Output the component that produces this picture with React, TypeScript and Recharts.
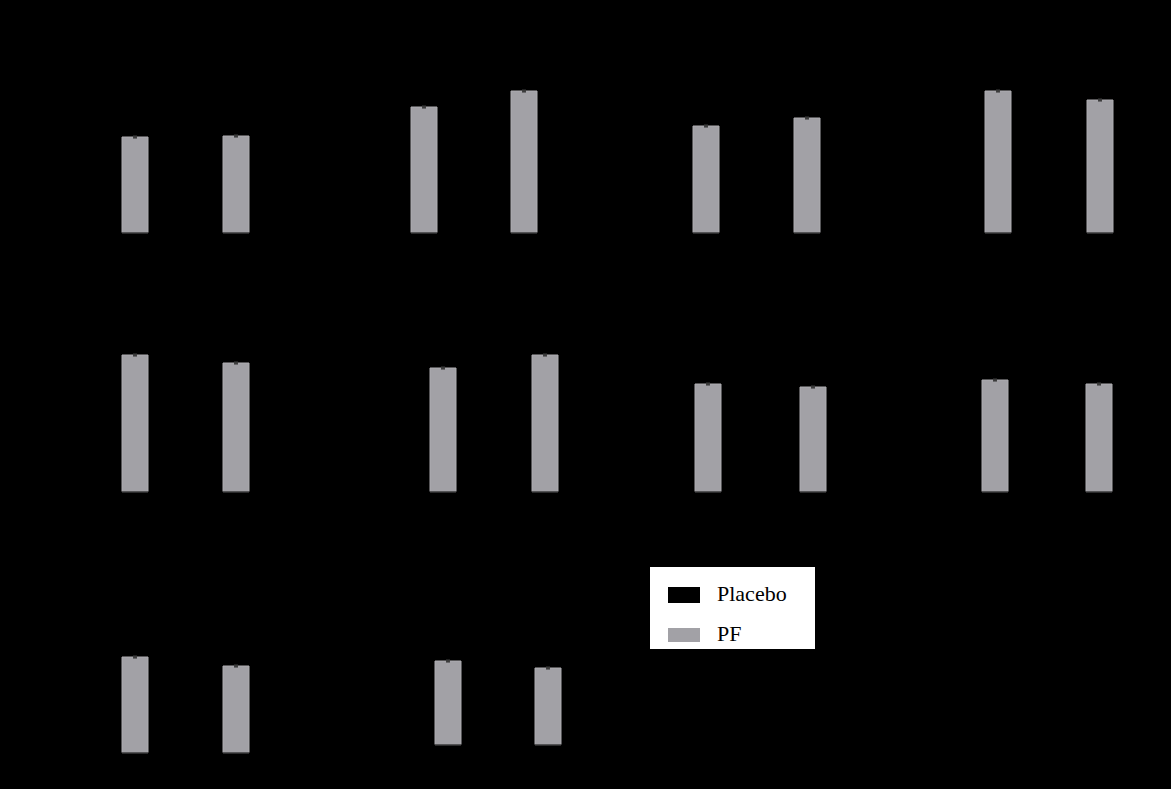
import React from 'react';
import { BarChart, Bar, XAxis, YAxis, ErrorBar } from 'recharts';

// two time points per panel; placebo bars are black on the black page
const timepoints = ['Baseline', 'Week 12'];

const panelTitles = ['A', 'B', 'C', 'D', 'E', 'F', 'G', 'H', 'I', 'J'];

// PF (grey) bar heights, in axis units (0-80)
const pfValues = [
  [48, 48.5],
  [63, 71],
  [53.5, 57.5],
  [71, 66.5],
  [68.5, 64.5],
  [62, 68.5],
  [54, 52.5],
  [56, 54],
  [48, 43.5],
  [42, 38.5],
];

// placebo bars cannot be seen (black on black); estimated close to PF
const placeboValues = [
  [47, 47],
  [62, 66],
  [53, 55],
  [70, 68],
  [67, 66],
  [61, 64],
  [54, 53],
  [55, 55],
  [47, 45],
  [41, 40],
];

const yTicks = [0, 20, 40, 60, 80];

// plot-area placement of each panel: [left, width, top]
const panelBoxes: [number, number, number][] = [
  [70.5, 202, 73],
  [360, 200, 73],
  [641.5, 202, 73],
  [933, 204, 73],
  [70.5, 202, 332],
  [378, 204, 332],
  [641.5, 210, 332],
  [929, 208, 332],
  [70.5, 202, 593],
  [384, 200, 585],
];

const GREY = '#a2a1a6';
const Y_AXIS_W = 40;
const X_AXIS_H = 30;
const PLOT_H = 160;

function Panel({ index }: { index: number }) {
  const [left, width, top] = panelBoxes[index];
  const data = timepoints.map((t, i) => ({
    time: t,
    placebo: placeboValues[index][i],
    pf: pfValues[index][i],
    err: 0.4,
  }));

  return (
    <div style={{ position: 'absolute', left: left - Y_AXIS_W, top }}>
      <BarChart
        width={width + Y_AXIS_W}
        height={PLOT_H + X_AXIS_H}
        data={data}
        margin={{ top: 0, right: 0, left: 0, bottom: 0 }}
        barGap={0}
        barCategoryGap={0}
      >
        <XAxis
          dataKey="time"
          height={X_AXIS_H}
          stroke="#000"
          tick={{ fill: '#000', fontSize: 14 }}
        />
        <YAxis
          width={Y_AXIS_W}
          domain={[0, 80]}
          ticks={yTicks}
          stroke="#000"
          tick={{ fill: '#000', fontSize: 12 }}
          label={{ value: panelTitles[index], fill: '#000', position: 'insideTopLeft' }}
        />
        <Bar dataKey="placebo" fill="#000" barSize={27} isAnimationActive={false}>
          <ErrorBar dataKey="err" width={2} stroke="#000" />
        </Bar>
        <Bar
          dataKey="pf"
          fill={GREY}
          stroke="#aeadb1"
          strokeWidth={1}
          barSize={26}
          isAnimationActive={false}
        >
          <ErrorBar dataKey="err" width={2} stroke="#3a3a3a" strokeWidth={1.5} />
        </Bar>
      </BarChart>
    </div>
  );
}

export default function App() {
  return (
    <div
      style={{
        position: 'fixed',
        left: 0,
        top: 0,
        width: 1171,
        height: 789,
        background: '#000',
        overflow: 'hidden',
      }}
    >
      {panelBoxes.map((_, i) => (
        <Panel key={i} index={i} />
      ))}
      <div
        style={{
          position: 'absolute',
          left: 650,
          top: 567,
          width: 165,
          height: 82,
          background: '#fff',
          fontFamily: '"Liberation Serif", "Times New Roman", serif',
          fontSize: 22,
          color: '#000',
        }}
      >
        <div style={{ position: 'absolute', left: 18, top: 20, width: 32, height: 16, background: '#000' }} />
        <div style={{ position: 'absolute', left: 67, top: 14, lineHeight: '26px' }}>Placebo</div>
        <div style={{ position: 'absolute', left: 18, top: 61, width: 32, height: 14, background: GREY }} />
        <div style={{ position: 'absolute', left: 67, top: 54, lineHeight: '26px' }}>PF</div>
      </div>
    </div>
  );
}
